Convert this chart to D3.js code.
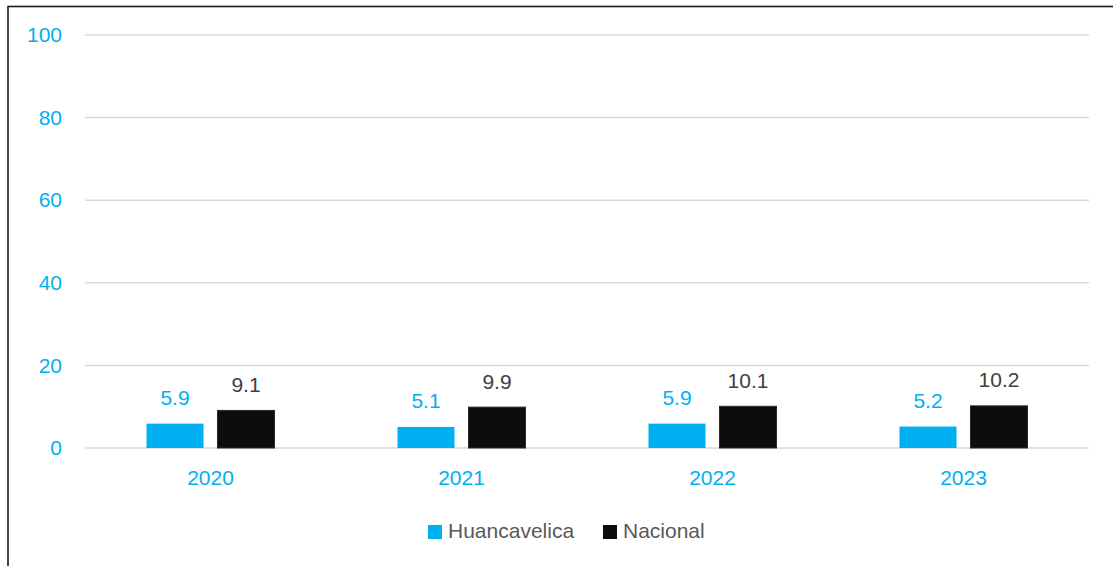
<!DOCTYPE html>
<html><head><meta charset="utf-8">
<script src="https://cdn.jsdelivr.net/npm/d3@7"></script>
<style>body{margin:0;background:#fff}svg{display:block}text{font-family:"Liberation Sans",Arial,sans-serif}</style>
</head><body><svg id="c" width="1113" height="566"></svg>
<script>
const categories = ["2020","2021","2022","2023"];
const seriesNames = ["Huancavelica","Nacional"];
const huancavelica = [5.9,5.1,5.9,5.2];
const nacional = [9.1,9.9,10.1,10.2];
const yTicks = [0,20,40,60,80,100];
const colors = ["#00b0f0","#0d0d0d"];
const labelColors = ["#00b0f0","#404040"];

const svg = d3.select("#c");
svg.append("rect").attr("x",8).attr("y",6.5).attr("width",1200).attr("height",700)
  .attr("fill","none").attr("stroke","#1a1a1a").attr("stroke-width",1.6);

const x = d3.scaleBand().domain(categories).range([85,1089]);
const y = d3.scaleLinear().domain([0,100]).range([448,35]);
const bw = x.bandwidth();
const x1 = d3.scaleBand().domain(seriesNames).range([bw/2-64, bw/2+64]).paddingInner(0.197).paddingOuter(0);

svg.append("g").selectAll("line").data(yTicks).join("line")
  .attr("x1",85).attr("x2",1089).attr("y1",d=>y(d)).attr("y2",d=>y(d))
  .attr("stroke","#d9d9d9").attr("stroke-width",1.5);

const yAxis = d3.axisLeft(y).tickValues(yTicks).tickSize(0).tickPadding(0);
const ya = svg.append("g").attr("transform","translate(62,0)").call(yAxis);
ya.select(".domain").remove();
ya.selectAll("text").attr("fill","#00b0f0").attr("font-size",21).style("font-family","Liberation Sans, Arial, sans-serif");

const xAxis = d3.axisBottom(x).tickSize(0).tickPadding(0);
const xa = svg.append("g").attr("transform","translate(0,470)").call(xAxis);
xa.select(".domain").remove();
xa.selectAll("text").attr("fill","#00b0f0").attr("font-size",21).style("font-family","Liberation Sans, Arial, sans-serif");

const data = [huancavelica, nacional];
seriesNames.forEach((s,si)=>{
  const g = svg.append("g");
  g.selectAll("rect").data(categories).join("rect")
    .attr("x",(c)=>x(c)+x1(s)).attr("width",x1.bandwidth())
    .attr("y",(c,i)=>y(data[si][i])).attr("height",(c,i)=>y(0)-y(data[si][i]))
    .attr("fill",colors[si])
    .attr("stroke",si===1?"#2a2a2a":"none").attr("stroke-width",1);
  g.selectAll("text").data(categories).join("text")
    .attr("x",(c)=>x(c)+x1(s)+x1.bandwidth()/2)
    .attr("y",(c,i)=>y(data[si][i])-24)
    .attr("text-anchor","middle").attr("dominant-baseline","middle")
    .attr("font-size",21).attr("fill",labelColors[si])
    .text((c,i)=>data[si][i].toFixed(1));
});

const legend = svg.append("g");
const legX = [428,603];
seriesNames.forEach((s,i)=>{
  legend.append("rect").attr("x",legX[i]).attr("y",525).attr("width",14).attr("height",14)
    .attr("fill",colors[i]);
  legend.append("text").attr("x",legX[i]+20).attr("y",532).attr("dominant-baseline","middle")
    .attr("font-size",21).attr("fill","#595959").text(s);
});
</script></body></html>
